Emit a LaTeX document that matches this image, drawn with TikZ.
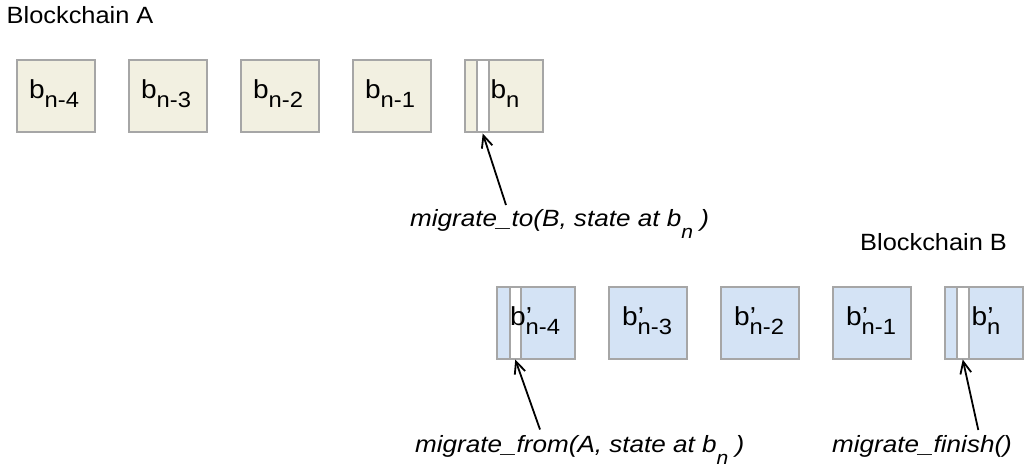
\documentclass[tikz,border=0pt]{standalone}
\usepackage{fontspec}
\setmainfont[FakeStretch=1.08, ItalicFeatures={FakeStretch=1.11}]{Liberation Sans}
\usetikzlibrary{arrows.meta}
\definecolor{bordergray}{HTML}{A6A6A6}
\definecolor{fillA}{HTML}{F2F0E1}
\definecolor{fillB}{HTML}{D4E3F5}
\newcommand\sbx[1]{\raisebox{-9pt}{\fontsize{22}{22}\selectfont #1}}
\newcommand\sbi[1]{\raisebox{-12pt}{\fontsize{19}{19}\selectfont #1}}
\newcommand\bpr{b\rlap{\kern0.3pt’}}
\begin{document}
\begin{tikzpicture}[x=1pt,y=-1pt,
  blk/.style={draw=bordergray, line width=2pt, minimum width=78pt, minimum height=72pt, inner sep=0pt, anchor=north west},
  blkA/.style={blk, fill=fillA},
  blkB/.style={blk, fill=fillB},
  stripbox/.style={draw=bordergray, line width=2pt, fill=white, minimum width=11.5pt, minimum height=72pt, inner sep=0pt, anchor=north west},
  lbl/.style={font=\fontsize{26}{26}\selectfont, inner sep=0pt, anchor=base},
  ttl/.style={font=\fontsize{23.5}{23.5}\selectfont, inner sep=0pt, anchor=base west},
  callt/.style={font=\fontsize{23.5}{23.5}\selectfont\itshape, inner sep=0pt, anchor=base west},
  ptr/.style={-{Straight Barb[length=12pt,width=11pt]}, line width=1.8pt, black}]
\fill[white] (0,0) rectangle (1034,468);
\useasboundingbox (0,0) rectangle (1034,468);

% Blockchain A
\node[ttl] (tA) at (6.5,23.3) {Blockchain A};
\node[blkA] (a1) at (16,59.5) {};
\node[blkA] (a2) at (128,59.5) {};
\node[blkA] (a3) at (240,59.5) {};
\node[blkA] (a4) at (352,59.5) {};
\node[blkA] (a5) at (464,59.5) {};
\node[stripbox] (sA) at (476,59.5) {};
\node[lbl] (la1) at (54,98.5) {b\sbx{n-4}};
\node[lbl] (la2) at (166,98.5) {b\sbx{n-3}};
\node[lbl] (la3) at (278,98.5) {b\sbx{n-2}};
\node[lbl] (la4) at (390,98.5) {b\sbx{n-1}};
\node[lbl] (la5) at (505,98.5) {b\sbx{n}};

% Blockchain B
\node[ttl] (tB) at (860,250) {Blockchain B};
\node[blkB] (b1) at (496,285.5) {};
\node[blkB] (b2) at (608,285.5) {};
\node[blkB] (b3) at (720,285.5) {};
\node[blkB] (b4) at (832,285.5) {};
\node[blkB] (b5) at (944,285.5) {};
\node[stripbox] (sB1) at (508.5,285.5) {};
\node[stripbox] (sB5) at (956,285.5) {};
\node[lbl] (lb1) at (535,325) {\bpr\sbx{n-4}};
\node[lbl] (lb2) at (647,325) {\bpr\sbx{n-3}};
\node[lbl] (lb3) at (759,325) {\bpr\sbx{n-2}};
\node[lbl] (lb4) at (871,325) {\bpr\sbx{n-1}};
\node[lbl] (lb5) at (986,325) {\bpr\sbx{n}};

% calls
\node[callt] (cTo) at (410,226.7) {migrate\_to(B, state at b\sbi{n} )};
\node[callt] (cFrom) at (415,452.3) {migrate\_from(A, state at b\sbi{n} )};
\node[callt] (cFin) at (832,452) {migrate\_finish()};

\coordinate (pTo) at (506,205);
\coordinate (pFrom) at (540,429.5);
\coordinate (pFin) at (978.3,430);
\draw[ptr] (pTo) -- (sA.south);
\draw[ptr] (pFrom) -- (sB1.south);
\draw[ptr] (pFin) -- (sB5.south);
\end{tikzpicture}
\end{document}
